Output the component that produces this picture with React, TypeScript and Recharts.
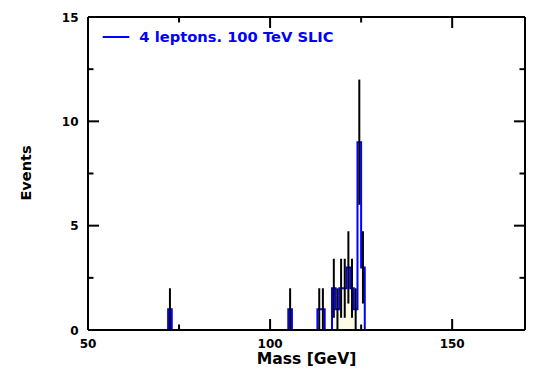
import React from 'react';
import { ComposedChart, XAxis, YAxis, Line, Area, Scatter, ErrorBar, Legend } from 'recharts';

// ---- data ----
const binCenters = [72.5, 105.5, 113.5, 114.5, 117.5, 118.5, 119.5, 120.5, 121.5, 122.5, 123.5, 124.5, 125.5];
const eventCounts = [1, 1, 1, 1, 2, 1, 2, 2, 3, 2, 1, 9, 3];
const fillCenters = [117.5, 118.5, 119.5, 120.5, 121.5, 122.5, 124.5];
const fillCounts = [2, 2, 2, 2, 2, 2, 0.35];
const binWidth = 1;
const xTicks = [50, 75, 100, 125, 150];
const xTickLabels = [50, 100, 150];
const yTicks = [0, 2.5, 5, 7.5, 10, 12.5, 15];
const yTickLabels = [0, 5, 10, 15];
const legendLabel = '4 leptons. 100 TeV SLIC';
const xTitle = 'Mass [GeV]';
const yTitle = 'Events';

const INK = '#000000';
const BLUE = '#0000FF';
const IVORY = '#FFFCE6';
const FONT = 'DejaVu Sans, Verdana, sans-serif';

function stepOutline(centers: number[], counts: number[], w: number) {
  const pts: { x: number; y: number | null }[] = [];
  let i = 0;
  while (i < centers.length) {
    let j = i;
    pts.push({ x: centers[i] - w / 2, y: 0 });
    for (;;) {
      pts.push({ x: centers[j] - w / 2, y: counts[j] });
      pts.push({ x: centers[j] + w / 2, y: counts[j] });
      if (j + 1 < centers.length && Math.abs(centers[j + 1] - centers[j] - w) < 1e-6) j++;
      else break;
    }
    const right = centers[j] + w / 2;
    pts.push({ x: right, y: 0 });
    pts.push({ x: right + 0.001, y: null });
    i = j + 1;
  }
  return pts;
}

const outlineData = stepOutline(binCenters, eventCounts, binWidth);
const fillData = stepOutline(fillCenters, fillCounts, binWidth);
const errorData = binCenters.map((c, k) => ({ x: c, y: eventCounts[k], err: Math.sqrt(eventCounts[k]) }));

const BottomTick = (props: any) => {
  const { x, y, payload } = props;
  const v = payload.value;
  const major = xTickLabels.includes(v);
  return (
    <g>
      <line x1={x} x2={x} y1={y} y2={y - (major ? 11 : 5.5)} stroke={INK} strokeWidth={2} />
      {major && (
        <text x={x} y={y + 18} textAnchor="middle" fontFamily={FONT} fontSize={12} fontWeight="bold" fill={INK}>
          {v}
        </text>
      )}
    </g>
  );
};

const TopTick = (props: any) => {
  const { x, y, payload } = props;
  const major = xTickLabels.includes(payload.value);
  return <line x1={x} x2={x} y1={y} y2={y + (major ? 11 : 5.5)} stroke={INK} strokeWidth={2} />;
};

const LeftTick = (props: any) => {
  const { x, y, payload } = props;
  const v = payload.value;
  const major = yTickLabels.includes(v);
  return (
    <g>
      <line x1={x} x2={x + (major ? 11 : 5.5)} y1={y} y2={y} stroke={INK} strokeWidth={2} />
      {major && (
        <text x={x - 9.5} y={y + 4.5} textAnchor="end" fontFamily={FONT} fontSize={12} fontWeight="bold" fill={INK}>
          {v}
        </text>
      )}
    </g>
  );
};

const RightTick = (props: any) => {
  const { x, y, payload } = props;
  const major = yTickLabels.includes(payload.value);
  return <line x1={x} x2={x - (major ? 11 : 5.5)} y1={y} y2={y} stroke={INK} strokeWidth={2} />;
};

const LegendContent = () => (
  <svg width={260} height={24} style={{ display: 'block' }}>
    <line x1={4.7} x2={31.3} y1={9} y2={9} stroke={BLUE} strokeWidth={2} />
    <text x={41.3} y={14.3} fontFamily={FONT} fontSize={14.7} fontWeight="bold" fill={BLUE}>
      {legendLabel}
    </text>
  </svg>
);

export default function App() {
  return (
    <div style={{ width: 537, height: 375 }}>
      <ComposedChart width={537} height={375} margin={{ top: 8, right: 19, bottom: 0, left: 0 }}>
        <XAxis
          xAxisId={0}
          dataKey="x"
          type="number"
          domain={[50, 170]}
          allowDataOverflow
          ticks={xTicks}
          interval={0}
          height={53}
          tickSize={0}
          tickMargin={0}
          tickLine={false}
          tick={BottomTick}
          axisLine={{ stroke: INK, strokeWidth: 2 }}
          label={{
            content: (p: any) => {
              const vb = p.viewBox;
              return (
                <text x={vb.x + vb.width / 2} y={vb.y + 34} textAnchor="middle" fontFamily={FONT} fontSize={15.6} fontWeight="bold" fill={INK}>
                  {xTitle}
                </text>
              );
            },
          }}
        />
        <XAxis
          xAxisId="top"
          orientation="top"
          dataKey="x"
          type="number"
          domain={[50, 170]}
          allowDataOverflow
          ticks={xTicks}
          interval={0}
          height={1}
          tickSize={0}
          tickMargin={0}
          tickLine={false}
          tick={TopTick}
          axisLine={{ stroke: INK, strokeWidth: 2 }}
        />
        <YAxis
          yAxisId={0}
          dataKey="y"
          type="number"
          domain={[0, 15]}
          allowDataOverflow
          ticks={yTicks}
          interval={0}
          width={80}
          tickSize={0}
          tickMargin={0}
          tickLine={false}
          tick={LeftTick}
          axisLine={{ stroke: INK, strokeWidth: 2 }}
          label={{
            content: () => {
              const cx = 23;
              const cy = 165;
              return (
                <text x={cx} y={cy} transform={`rotate(-90, ${cx}, ${cy})`} textAnchor="middle" fontFamily={FONT} fontSize={14.5} fontWeight="bold" fill={INK}>
                  {yTitle}
                </text>
              );
            },
          }}
        />
        <YAxis
          yAxisId="right"
          orientation="right"
          dataKey="y"
          type="number"
          domain={[0, 15]}
          allowDataOverflow
          ticks={yTicks}
          interval={0}
          width={1}
          tickSize={0}
          tickMargin={0}
          tickLine={false}
          tick={RightTick}
          axisLine={{ stroke: INK, strokeWidth: 2 }}
        />
        <Legend
          layout="horizontal"
          verticalAlign="middle"
          align="center"
          content={LegendContent}
          wrapperStyle={{ position: 'absolute', left: 90, top: 20, width: 260, height: 24 }}
        />
        {/* invisible series bound to the mirrored frame axes (top/right) */}
        <Scatter
          data={errorData}
          dataKey="y"
          xAxisId="top"
          yAxisId="right"
          shape={() => <g />}
          legendType="none"
          isAnimationActive={false}
        />
        <Area
          data={fillData}
          dataKey="y"
          type="linear"
          stroke="none"
          fill={IVORY}
          fillOpacity={1}
          baseValue={0}
          connectNulls={false}
          dot={false}
          activeDot={false}
          isAnimationActive={false}
        />
        <Line
          data={outlineData}
          dataKey="y"
          type="linear"
          stroke={BLUE}
          strokeWidth={2}
          connectNulls={false}
          dot={false}
          activeDot={false}
          isAnimationActive={false}
        />
        <Scatter data={errorData} dataKey="y" shape={() => <g />} isAnimationActive={false}>
          <ErrorBar dataKey="err" direction="y" width={0} stroke={INK} strokeWidth={2} isAnimationActive={false} />
        </Scatter>
      </ComposedChart>
    </div>
  );
}
